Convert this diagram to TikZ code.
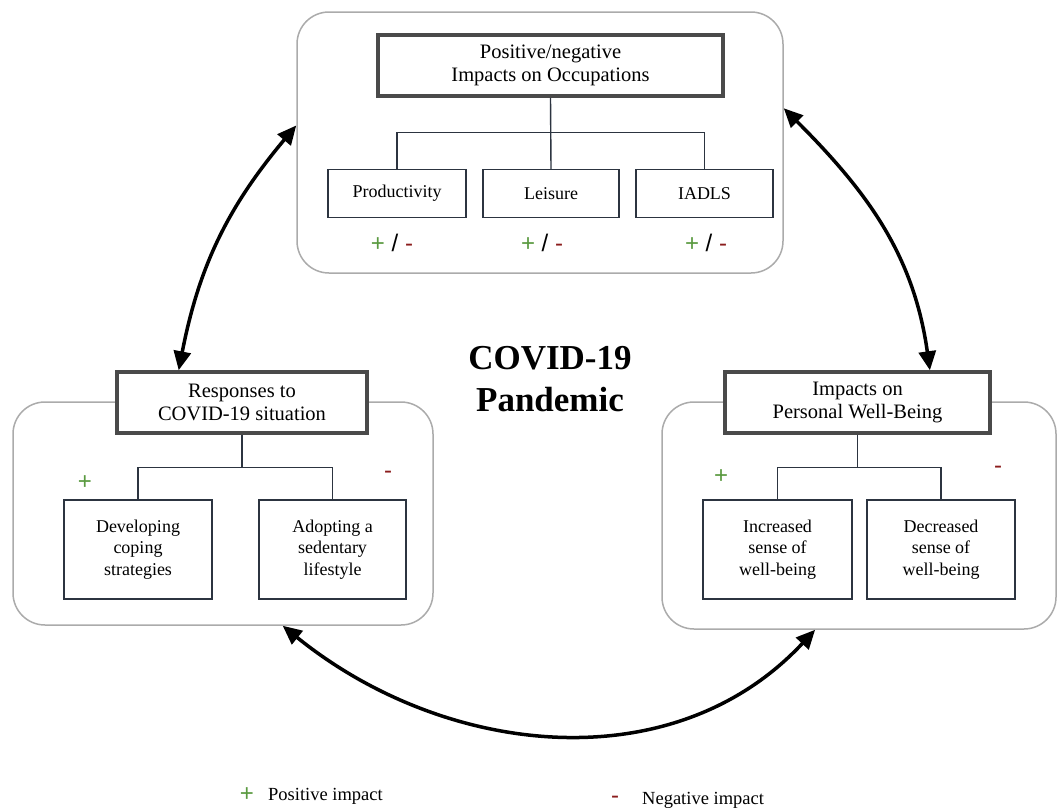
\documentclass[tikz,border=0pt]{standalone}
\usepackage{fontspec}
\setmainfont{Liberation Serif}
\setsansfont{Liberation Sans}
\usetikzlibrary{arrows.meta}
\definecolor{plusgreen}{HTML}{5A9A40}
\definecolor{minusred}{HTML}{8B1C1C}
\definecolor{hdrgray}{HTML}{4A4A4A}
\definecolor{boxink}{HTML}{2C3440}
\definecolor{grpgray}{HTML}{ABABAB}
\newcommand{\pos}{\textcolor{plusgreen}{+}}
\newcommand{\negt}{\textcolor{minusred}{-}}

\begin{document}
\begin{tikzpicture}[
  x=1pt, y=1pt,
  grp/.style={draw=grpgray, line width=1.5pt, rounded corners=32pt, inner sep=0pt},
  hdr/.style={draw=hdrgray, line width=3.5pt, fill=white, align=center,
              inner sep=0pt, font=\fontsize{20.5}{23}\selectfont},
  sub/.style={draw=boxink, line width=1.4pt, fill=white, align=center,
              inner sep=0pt, font=\fontsize{18}{21.5}\selectfont},
  lnk/.style={draw=boxink, line width=1.4pt},
  cyc/.style={{Triangle[length=19pt,width=17pt]}-{Triangle[length=19pt,width=17pt]},
              draw=black, line width=3.5pt},
  pm/.style={font=\sffamily\fontsize{24}{24}\selectfont, inner sep=0pt},
  lgd/.style={font=\fontsize{18.5}{20}\selectfont, inner sep=0pt, anchor=west},
  ttl/.style={font=\bfseries\fontsize{35}{42}\selectfont, align=center, inner sep=0pt}
]
\useasboundingbox[fill=white] (0,0) rectangle (1057,-809);

% ===== top: occupations =====
\node[grp, minimum width=486pt, minimum height=261pt] (topframe) at (540,-142.5) {};
\node[hdr, minimum width=345pt, minimum height=61pt] (tophead) at (550.5,-65.5)
     {Positive/negative\\Impacts on Occupations};
\node[sub, minimum width=138pt, minimum height=48pt] (prod) at (397,-193.5) {Productivity};
\node[sub, minimum width=136pt, minimum height=48pt] (leis) at (551,-193.5) {Leisure};
\node[sub, minimum width=137pt, minimum height=48pt] (iadl) at (704.5,-193.5) {IADLS};
\draw[lnk] (tophead.south) -- ++(0,-35) -| (prod.north);
\draw[lnk] (tophead.south) -- ++(0,-35) -| (iadl.north);
\draw[lnk] (tophead.south) -- (leis.north);
\node[pm] (pmProd) at (392,-243) {\pos{} / \negt};
\node[pm] (pmLeis) at (542,-243) {\pos{} / \negt};
\node[pm] (pmIadl) at (706,-243) {\pos{} / \negt};

% ===== left: responses =====
\node[grp, minimum width=420pt, minimum height=223pt] (leftframe) at (223,-513.5) {};
\node[hdr, minimum width=250pt, minimum height=61pt] (lefthead) at (242,-402.5)
     {Responses to\\COVID-19 situation};
\node[sub, minimum width=148pt, minimum height=99pt] (cope) at (138,-549.5)
     {Developing\\coping\\strategies};
\node[sub, minimum width=147pt, minimum height=99pt] (sed) at (332.5,-549.5)
     {Adopting a\\sedentary\\lifestyle};
\draw[lnk] (lefthead.south) -- ++(0,-33) -| (cope.north);
\draw[lnk] (lefthead.south) -- ++(0,-33) -| (sed.north);
\node[pm] (plusCope) at (85,-483) {\pos};
\node[pm] (minSed) at (388,-475) {\negt};

% ===== right: well-being =====
\node[grp, minimum width=394pt, minimum height=227pt] (rightframe) at (859,-515.5) {};
\node[hdr, minimum width=265pt, minimum height=61pt] (righthead) at (857.5,-402.5)
     {Impacts on\\Personal Well-Being};
\node[sub, minimum width=149pt, minimum height=99pt] (incr) at (777.5,-549.5)
     {Increased\\sense of\\well-being};
\node[sub, minimum width=148pt, minimum height=99pt] (decr) at (941,-549.5)
     {Decreased\\sense of\\well-being};
\draw[lnk] (righthead.south) -- ++(0,-33) -| (incr.north);
\draw[lnk] (righthead.south) -- ++(0,-33) -| (decr.north);
\node[pm] (plusIncr) at (721,-477) {\pos};
\node[pm] (minDecr) at (998,-470) {\negt};

% ===== centre + cycle =====
\node[ttl] (covid) at (550,-379) {COVID-19\\Pandemic};
\draw[cyc] (topframe.176) to[out=230, in=79] (lefthead.153);
\draw[cyc] (topframe.8) to[out=-45, in=98] (righthead.24);
\draw[cyc] (leftframe.-62.5) to[out=-39, in=227] (rightframe.249);

% ===== legend =====
\node[pm] (lgPos) at (247,-795) {\pos};
\node[lgd] (lgPosTxt) at (268,-796) {Positive impact};
\node[pm] (lgNeg) at (615,-800) {\negt};
\node[lgd] (lgNegTxt) at (642,-800) {Negative impact};
\end{tikzpicture}
\end{document}
